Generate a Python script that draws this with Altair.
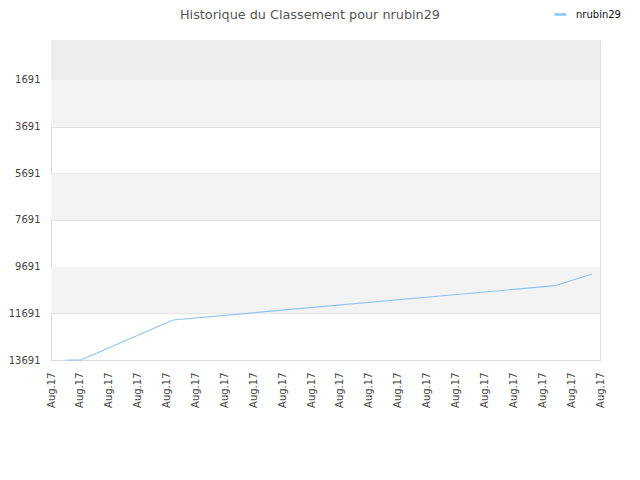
import altair as alt
import pandas as pd

# Data
days = [0.52, 1.04, 4.22, 17.44, 18.72]
ranks = [13691, 13691, 11977, 10507, 10005]
series = ["nrubin29"] * len(days)

tick_values = [1691, 3691, 5691, 7691, 9691, 11691, 13691]
x_ticks = list(range(20))
x_label = "Aug.17"
title_text = ["Historique du Classement pour nrubin29"]

band_start = [-23, 1691, 5691, 9691]
band_end = [1691, 3691, 7691, 11691]
band_color = ["#ededed", "#f3f3f3", "#f3f3f3", "#f3f3f3"]

line_df = pd.DataFrame({"day": days, "rank": ranks, "series": series})
band_df = pd.DataFrame({"y0": band_start, "y1": band_end, "c": band_color})
title_df = pd.DataFrame({"t": title_text})

FONT = "DejaVu Sans"
y_scale = alt.Scale(domain=[-23, 13691], reverse=True, zero=False, nice=False)
x_scale = alt.Scale(domain=[0, 19], zero=False, nice=False)

bands = alt.Chart(band_df).mark_rect().encode(
    x=alt.value(0),
    x2=alt.value(549),
    y=alt.Y("y0:Q", scale=y_scale),
    y2="y1:Q",
    fill=alt.Color("c:N", scale=None),
)

line = alt.Chart(line_df).mark_line(strokeWidth=1.2).encode(
    x=alt.X(
        "day:Q",
        scale=x_scale,
        axis=alt.Axis(
            values=x_ticks,
            labelExpr=f"'{x_label}'",
            labelAngle=-90,
            labelPadding=12,
            ticks=False,
            grid=False,
            title=None,
            domainColor="#d8d8d8",
            labelColor="#444444",
            labelFont=FONT,
            labelFontSize=10,
        ),
    ),
    y=alt.Y(
        "rank:Q",
        scale=y_scale,
        axis=alt.Axis(
            values=tick_values,
            format="d",
            ticks=False,
            grid=True,
            gridColor="#e2e2e2",
            title=None,
            labelPadding=11,
            domainColor="#d8d8d8",
            labelColor="#444444",
            labelFont=FONT,
            labelFontSize=10,
        ),
    ),
    color=alt.Color(
        "series:N",
        scale=alt.Scale(range=["#90c2f4"]),
        legend=alt.Legend(
            title=None,
            orient="none",
            legendX=502,
            legendY=-33,
            symbolType="stroke",
            symbolSize=144,
            symbolStrokeWidth=2.5,
            labelFont=FONT,
            labelFontSize=10,
            labelColor="#111111",
            labelOffset=8,
        ),
    ),
)

title = alt.Chart(title_df).mark_text(
    font=FONT, fontSize=12.8, color="#555555", align="center", baseline="alphabetic"
).encode(
    text="t:N",
    x=alt.value(259),
    y=alt.value(-21),
)

chart = (
    alt.layer(bands, line, title)
    .properties(
        width=549,
        height=320,
        autosize=alt.AutoSizeParams(type="none"),
        padding={"left": 43, "top": 32, "right": 32, "bottom": 100},
    )
    .configure_view(stroke="#dddddd")
)

chart.save("out.html", embed_options={"renderer": "svg", "actions": False})
